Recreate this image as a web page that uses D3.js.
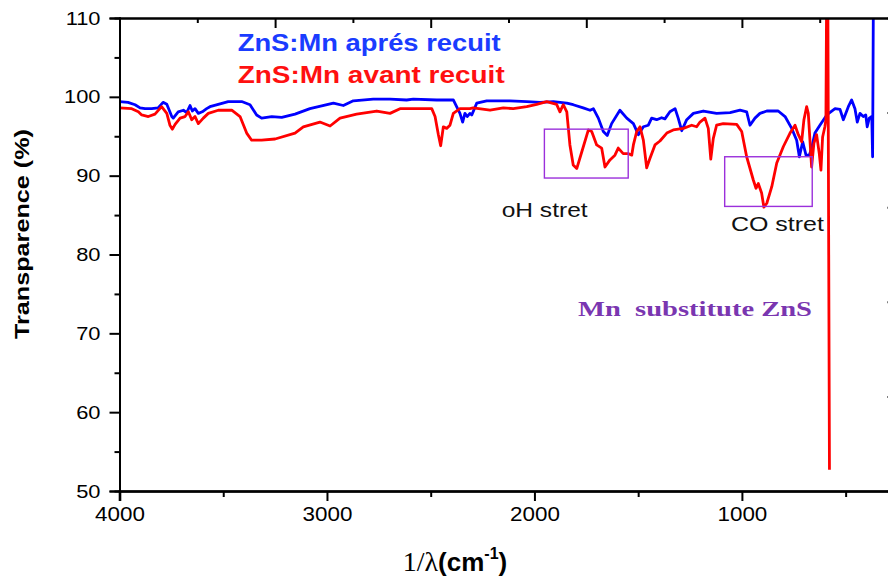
<!DOCTYPE html>
<html><head><meta charset="utf-8">
<script src="https://cdn.jsdelivr.net/npm/d3@7"></script>
<style>body{margin:0;background:#fff;} svg{display:block;overflow:hidden;}</style>
</head><body>
<svg id="chart" width="888" height="577"></svg>
<script>
// ---- data (wavenumber cm-1, transmittance %) ----
const blueSpectrum = [[4000,99.4],[3959,99.3],[3925,99.0],[3901,98.6],[3877,98.5],[3845,98.5],[3814,98.6],[3790,99.3],[3772,99.05],[3748,97.5],[3741,97.3],[3717,98.1],[3692,98.3],[3676,98.0],[3660,98.9],[3649,98.2],[3636,98.5],[3620,97.9],[3601,98.1],[3580,98.5],[3564,98.75],[3524,99.05],[3476,99.4],[3411,99.4],[3371,99.0],[3339,97.7],[3315,97.3],[3266,97.5],[3218,97.4],[3154,97.8],[3082,98.5],[2969,99.2],[2921,98.9],[2873,99.5],[2777,99.7],[2696,99.7],[2616,99.6],[2584,99.7],[2471,99.6],[2391,99.6],[2375,98.75],[2359,97.9],[2346,96.8],[2335,97.9],[2324,97.5],[2311,97.9],[2302,97.7],[2278,99.2],[2230,99.5],[2118,99.5],[2037,99.4],[1973,99.3],[1909,99.4],[1844,99.2],[1813,99.0],[1765,98.6],[1732,98.3],[1716,98.5],[1692,97.3],[1668,95.6],[1649,95.1],[1628,96.6],[1588,98.3],[1555,97.3],[1523,96.6],[1499,95.2],[1475,96.2],[1451,96.4],[1435,97.3],[1411,97.1],[1387,97.35],[1371,97.2],[1347,98.1],[1322,98.5],[1307,97.3],[1290,95.7],[1266,97.1],[1234,97.9],[1186,98.2],[1122,97.9],[1057,98.0],[1009,98.3],[977,98.1],[961,96.4],[937,97.3],[913,97.9],[880,98.2],[825,98.2],[792,97.5],[760,96.0],[736,94.5],[723,92.4],[707,94.3],[691,92.6],[675,92.6],[664,93.5],[648,95.4],[624,96.4],[591,97.7],[551,98.5],[527,98.4],[511,97.1],[487,98.75],[471,99.6],[455,98.5],[444,96.8],[431,97.9],[415,97.5],[403,97.7],[396,96.2],[386,97.3],[374,97.5],[370,92.4],[363,130]];

const redSpectrum = [[4000,98.6],[3941,98.5],[3909,98.1],[3893,97.7],[3861,97.5],[3829,97.8],[3797,98.75],[3772,97.9],[3757,96.4],[3745,95.9],[3732,96.5],[3708,97.3],[3684,97.5],[3668,98.1],[3652,97.1],[3636,97.5],[3620,96.6],[3596,97.3],[3572,97.9],[3524,98.3],[3459,98.3],[3419,97.5],[3387,95.4],[3363,94.5],[3315,94.5],[3250,94.65],[3154,95.4],[3114,96.2],[3034,96.8],[2985,96.3],[2937,97.3],[2857,97.8],[2760,98.2],[2696,97.9],[2648,98.5],[2567,98.5],[2495,98.5],[2479,97.5],[2463,95.2],[2452,93.8],[2439,96.2],[2423,96.0],[2407,96.4],[2391,97.9],[2359,98.5],[2311,98.5],[2295,98.6],[2214,98.3],[2150,98.6],[2102,98.5],[2037,98.75],[1989,99.05],[1941,99.4],[1893,99.05],[1877,98.1],[1861,99.0],[1844,98.1],[1829,93.9],[1813,91.35],[1796,90.9],[1772,93.0],[1740,95.8],[1724,95.6],[1700,93.9],[1676,93.5],[1660,91.1],[1636,92.0],[1612,92.6],[1596,93.5],[1572,92.8],[1548,92.8],[1531,92.6],[1523,93.9],[1507,95.6],[1491,96.2],[1475,94.5],[1459,91.0],[1443,92.2],[1419,93.9],[1395,94.4],[1362,95.4],[1331,95.8],[1282,96.0],[1242,96.4],[1218,96.2],[1202,96.8],[1178,97.3],[1162,96.0],[1150,92.1],[1138,94.7],[1122,96.4],[1090,96.6],[1025,96.5],[1001,95.6],[977,92.4],[945,89.45],[932,88.4],[921,89.0],[905,87.8],[894,86.0],[880,86.5],[856,88.6],[832,91.6],[800,93.7],[768,95.4],[744,96.4],[728,95.2],[712,94.3],[701,97.1],[688,98.75],[680,97.9],[664,91.1],[653,94.1],[640,95.2],[627,92.8],[619,90.7],[611,94.9],[600,96.2],[595,97.1],[588,130],[578,52.7]];

const seriesNames = ["ZnS:Mn aprés recuit", "ZnS:Mn avant recuit"];
const xMajorTicks = [4000, 3000, 2000, 1000];
const xMinorTicks = [3500, 2500, 1500, 500];
const topMajorTicks = [4000, 3250, 2500, 1750, 1000];
const topMinorTicks = [3625, 2875, 2125, 1375, 625];
const yMajorTicks = [50, 60, 70, 80, 90, 100, 110];
const yMinorTicks = [55, 65, 75, 85, 95, 105];
const rightTicks = [98, 86, 74, 62];
const boxRegions = [[1952, 1548, 95.9, 89.7], [1083, 661, 92.4, 86.1]];
const annotationTexts = ["oH stret", "CO stret", "Mn  substitute ZnS"];

// ---- drawing ----
const svg = d3.select("#chart");
const L = 119.5, R = 897.5, T = 18, B = 491;
const x = d3.scaleLinear().domain([4000, 250]).range([L, R]);
const y = d3.scaleLinear().domain([50, 110]).range([B, T]);
const SANS = "Arial, 'Liberation Sans', sans-serif";
const SERIF = "'Times New Roman', 'Liberation Serif', serif";

function stretch(sel, f) {
  sel.each(function () {
    const w = this.getComputedTextLength();
    this.setAttribute("textLength", w * f);
    this.setAttribute("lengthAdjust", "spacingAndGlyphs");
  });
}
function fitTo(sel, len) {
  sel.attr("textLength", len).attr("lengthAdjust", "spacingAndGlyphs");
}

svg.append("defs").append("clipPath").attr("id", "clip")
  .append("rect").attr("x", L).attr("y", T).attr("width", R - L).attr("height", B - T);

const line = d3.line().x(d => x(d[0])).y(d => y(d[1]));
const plot = svg.append("g").attr("clip-path", "url(#clip)");
plot.append("path").datum(blueSpectrum).attr("d", line)
  .attr("fill", "none").attr("stroke", "#0000ff").attr("stroke-width", 2.8).attr("stroke-linejoin", "round");
plot.append("path").datum(redSpectrum).attr("d", line)
  .attr("fill", "none").attr("stroke", "#ff0000").attr("stroke-width", 2.8).attr("stroke-linejoin", "round");

// boxes
svg.selectAll("rect.box").data(boxRegions).enter().append("rect").attr("class", "box")
  .attr("x", d => x(d[0])).attr("y", d => y(d[2]))
  .attr("width", d => x(d[1]) - x(d[0])).attr("height", d => y(d[3]) - y(d[2]))
  .attr("fill", "none").attr("stroke", "#9b30db").attr("stroke-width", 1.4);

// axes
function styleAxis(g, labels) {
  g.select(".domain").attr("stroke", "#000").attr("stroke-width", 2);
  g.selectAll(".tick line").attr("stroke", "#000").attr("stroke-width", 2);
  if (labels) {
    g.selectAll(".tick text").attr("font-family", SANS).attr("fill", "#000");
  }
}
const gxMinor = svg.append("g").attr("transform", `translate(0,${B})`)
  .call(d3.axisBottom(x).tickValues(xMinorTicks).tickSize(6).tickFormat(""));
styleAxis(gxMinor);
const gx = svg.append("g").attr("transform", `translate(0,${B})`)
  .call(d3.axisBottom(x).tickValues(xMajorTicks).tickSize(10).tickPadding(6).tickFormat(d3.format("d")));
styleAxis(gx, true);
gx.select(".domain").attr("stroke-width", 2.6);
gx.selectAll(".tick text").attr("font-size", 20);
stretch(gx.selectAll(".tick text"), 1.12);

const gyMinor = svg.append("g").attr("transform", `translate(${L},0)`)
  .call(d3.axisLeft(y).tickValues(yMinorTicks).tickSize(5).tickFormat(""));
styleAxis(gyMinor);
const gy = svg.append("g").attr("transform", `translate(${L},0)`)
  .call(d3.axisLeft(y).tickValues(yMajorTicks).tickSize(10).tickPadding(9).tickFormat(d3.format("d")));
styleAxis(gy, true);
gy.selectAll(".tick text").attr("font-size", 19);
stretch(gy.selectAll(".tick text"), 1.15);

const gtMinor = svg.append("g").attr("transform", `translate(0,${T})`)
  .call(d3.axisTop(x).tickValues(topMinorTicks).tickSize(-5).tickFormat(""));
styleAxis(gtMinor);
const gt = svg.append("g").attr("transform", `translate(0,${T})`)
  .call(d3.axisTop(x).tickValues(topMajorTicks).tickSize(-10).tickFormat(""));
styleAxis(gt);

const gr = svg.append("g").attr("transform", `translate(${R},0)`)
  .call(d3.axisRight(y).tickValues(rightTicks).tickSize(-10).tickFormat(""));
styleAxis(gr);

// legend texts
svg.append("text").attr("x", 237.7).attr("y", 50.7).text(seriesNames[0])
  .attr("font-family", SANS).attr("font-weight", "bold").attr("font-size", 24).attr("fill", "#1a3cff")
  .call(fitTo, 263);
svg.append("text").attr("x", 237.7).attr("y", 83.3).text(seriesNames[1])
  .attr("font-family", SANS).attr("font-weight", "bold").attr("font-size", 24).attr("fill", "#ff1010")
  .call(fitTo, 267);

// annotations
svg.append("text").attr("x", x(2158)).attr("y", y(84.8)).text(annotationTexts[0])
  .attr("font-family", SANS).attr("font-size", 20).attr("fill", "#111").call(fitTo, 86);
svg.append("text").attr("x", x(1053)).attr("y", y(83.0)).text(annotationTexts[1])
  .attr("font-family", SANS).attr("font-size", 20).attr("fill", "#111").call(fitTo, 93);
svg.append("text").attr("x", x(1790)).attr("y", y(72.2)).text(annotationTexts[2])
  .attr("font-family", SERIF).attr("font-weight", "bold").attr("font-size", 21.5).attr("fill", "#7a36b0")
  .style("white-space", "pre").call(fitTo, 234);

// axis titles
svg.append("text").attr("transform", "translate(29,234) rotate(-90)")
  .attr("text-anchor", "middle").text("Transparence (%)")
  .attr("font-family", SANS).attr("font-weight", "bold").attr("font-size", 21).attr("fill", "#000")
  .call(fitTo, 210);

const xt = svg.append("text").attr("x", 455).attr("y", 571).attr("text-anchor", "middle")
  .attr("font-size", 28).attr("fill", "#000");
xt.append("tspan").attr("font-family", SERIF).text("1/λ");
xt.append("tspan").attr("font-family", SANS).attr("font-weight", "bold").attr("font-size", 26).text("(cm");
xt.append("tspan").attr("font-family", SANS).attr("font-weight", "bold").attr("font-size", 16).attr("dy", -12).text("-1");
xt.append("tspan").attr("font-family", SANS).attr("font-weight", "bold").attr("font-size", 26).attr("dy", 12).text(")");
</script>
</body></html>
